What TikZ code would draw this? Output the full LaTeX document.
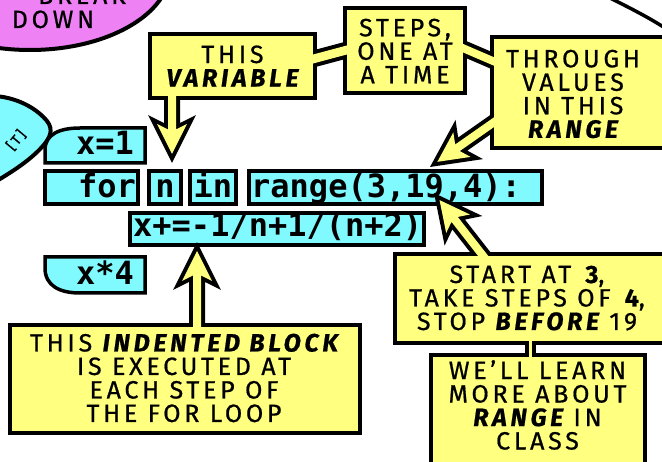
\documentclass[tikz,border=0pt]{standalone}
\usepackage{fontspec}
\setmainfont{Fira Sans}
\newfontfamily\codefont{DejaVu Sans Mono}
\newfontfamily\comicfont{Fira Sans}[LetterSpace=15,FakeBold=0.7]
\definecolor{codecyan}{RGB}{128,250,255}
\definecolor{callyellow}{RGB}{255,255,128}
\definecolor{pinkbub}{RGB}{238,130,245}
\newcommand\emw[1]{{\bfseries\itshape #1}}
\newcommand\arrowbody[1]{(9,0) -- (39,15) -- (33.5,4) -- (#1,4) -- (#1,-4) -- (33.5,-4) -- (39,-15) -- cycle}
\newcommand\yellowparts[1]{%
  \path[#1] (152,36) rectangle (313,96);
  \path[#1] (347,10) rectangle (463,91);
  \path[#1] (494,39) rectangle (670,146);
  \path[#1] (397,256) rectangle (670,341);
  \path[#1] (433,357) rectangle (643,470);
  \path[#1] (12,327) rectangle (358,431);
  \path[#1] (300,58) -- (355,43.3) -- (355,52.3) -- (300,67) -- cycle;
  \path[#1] (455,40.5) -- (500,59.8) -- (500,68.3) -- (455,49) -- cycle;
  \path[#1] (528.5,335) rectangle (532,362);
  \begin{scope}[shift={(172,163)},rotate=90]\path[#1] \arrowbody{72};\end{scope}
  \begin{scope}[shift={(197,242)},rotate=-90]\path[#1] \arrowbody{95};\end{scope}
  \begin{scope}[shift={(430,167)},rotate=35]\path[#1] \arrowbody{90};\end{scope}
  \begin{scope}[shift={(434,193)},rotate=-52]\path[#1] \arrowbody{90};\end{scope}
}
\tikzset{
  codebox/.style={draw=black, fill=codecyan, line width=3.5pt, line join=miter},
  codetext/.style={inner sep=0pt, font=\codefont\bfseries\fontsize{32}{32}\selectfont},
  ydraw/.style={draw=black, line width=8pt, line join=miter},
  yfill/.style={fill=callyellow},
  comic/.style={inner sep=0pt, align=center, font=\comicfont\fontsize{25}{23.5}\selectfont},
}
\begin{document}
\begin{tikzpicture}[x=1pt,y=-1pt]
\useasboundingbox (0,0) rectangle (662,462);
\clip (0,0) rectangle (662,462);
% pink bubble
\draw[fill=pinkbub, line width=4pt] (30,-30) ellipse [x radius=140pt, y radius=80pt];
\node[comic, anchor=base] (brk) at (82,4) {BREAK};
\node[comic, anchor=base] (down) at (53,28) {DOWN};
% top right bubble edge
\draw[line width=3.5pt] (608,-3) .. controls (630,8) and (650,18) .. (668,30);
% left cyan blob
\draw[fill=codecyan, line width=4pt] (-5,96) .. controls (20,98) and (38,110) .. (47,121) .. controls (54,130) and (50,138) .. (42,147) .. controls (30,160) and (15,170) .. (-5,182);
\node[comic, font=\comicfont\fontsize{14}{14}\selectfont, rotate=50] (tt) at (16,140) {[T]};
% code boxes
\draw[codebox] (45,163) -- (45,150) .. controls (45,134) and (60,128) .. (80,128) -- (145,128) -- (145,163) -- cycle;
\draw[codebox] (45,171) rectangle (138,204);
\draw[codebox] (149,171) rectangle (181,204);
\draw[codebox] (190,171) rectangle (236,204);
\draw[codebox] (249,171) rectangle (542,204);
\draw[codebox] (130,213) rectangle (424,245);
\draw[codebox] (45,257) -- (45,268) .. controls (45,286) and (60,293) .. (80,293) -- (145,293) -- (145,257) -- cycle;
\node[codetext, anchor=base west] (c1) at (76,155) {x=1};
\node[codetext, anchor=base west] (c2) at (78,198) {for};
\node[codetext, anchor=base] (c3) at (165,198) {n};
\node[codetext, anchor=base] (c4) at (213,198) {in};
\node[codetext, anchor=base west] (c5) at (251,198) {range(3,19,4):};
\node[codetext, anchor=base west] (c6) at (133,237) {x+=-1/n+1/(n+2)};
\node[codetext, anchor=base west] (c7) at (76,285) {x*4};
% yellow callouts
\yellowparts{ydraw}
\yellowparts{yfill}
\node[comic] (tvar) at (232.5,66) {THIS\\\emw{VARIABLE}};
\node[comic] (tsteps) at (405,51) {STEPS,\\ONE AT\\A TIME};
\node[comic] (tthrough) at (573,94) {THROUGH\\VALUES\\IN THIS\\\emw{RANGE}};
\node[comic] (tstart) at (527,298) {START AT \textbf{3},\\TAKE STEPS OF \textbf{4},\\STOP \emw{BEFORE} 19};
\node[comic] (tlearn) at (537.5,405) {WE’LL LEARN\\MORE ABOUT\\\emw{RANGE} IN\\CLASS};
\node[comic] (tblock) at (184,378) {THIS \emw{INDENTED BLOCK}\\IS EXECUTED AT\\EACH STEP OF\\THE FOR LOOP};
\end{tikzpicture}
\end{document}
